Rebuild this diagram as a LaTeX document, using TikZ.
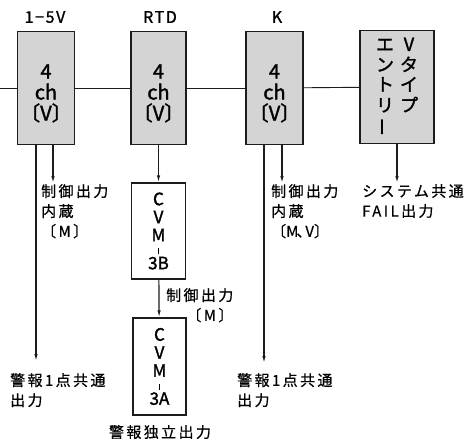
\documentclass[tikz,border=0pt]{standalone}
\usepackage{fontspec}
\setmainfont{Noto Sans CJK JP}
\newfontfamily\lblfont[LetterSpace=16, FakeBold=0.6]{Noto Sans CJK JP}
\newfontfamily\plainlbl[FakeBold=0.6]{Noto Sans CJK JP}
\newfontfamily\boxfont[FakeBold=1.6]{Noto Sans CJK JP}
\newfontfamily\topfont[LetterSpace=10, FakeBold=1.2]{Noto Sans CJK JP}
\usepackage{graphicx}
\usepackage{xcolor}
\definecolor{unitGray}{HTML}{D4D4D4}
\definecolor{inkDark}{HTML}{1C1C1C}
\usetikzlibrary{arrows.meta}

\newcommand{\vbar}{\rule{1.3pt}{6pt}}
\newcommand{\vlong}{\rotatebox[origin=c]{90}{ー}}
\newcommand{\upstrut}{\rule{0pt}{25pt}}

\tikzset{
  unit/.style={draw=inkDark, line width=1.4pt, fill=unitGray, minimum width=57pt,
    minimum height=113pt, inner sep=0pt, align=center, font=\boxfont\fontsize{20}{21}\selectfont},
  cvm/.style={draw=inkDark, line width=1.4pt, fill=white, minimum width=54pt,
    minimum height=96pt, inner sep=0pt, align=center, font=\boxfont\fontsize{17}{18}\selectfont},
  toplbl/.style={font=\topfont\fontsize{16}{16}\selectfont, inner sep=0pt},
  lbl/.style={font=\lblfont\fontsize{15}{20}\selectfont, inner sep=0pt, align=left, anchor=north west},
  wire/.style={inkDark, line width=0.9pt},
  outarrow/.style={inkDark, line width=1.2pt, -{Latex[length=7pt,width=3.5pt]}},
}

\begin{document}
\begin{tikzpicture}[x=1pt, y=-1pt]
  \useasboundingbox (0,0) rectangle (469,440);
  % input units on the bus
  \node[unit] (V1) at (46,88) {\upstrut4\\ch\\〔V〕};
  \node[unit, minimum width=55pt] (RTD) at (158.5,88) {\upstrut4\\ch\\〔V〕};
  \node[unit] (K) at (274.5,88) {\upstrut4\\ch\\〔V〕};
  \node[unit, minimum width=74pt, font=\boxfont\fontsize{18}{19}\selectfont] (VE) at (397,87)
    {\begin{tabular}{@{}c@{\hspace{6pt}}c@{}}エ & V\\ ン & タ\\ ト & イ\\ リ & プ\\ \vlong & \end{tabular}};
  \node[toplbl] (tV1) at (45,17) {1−5V};
  \node[toplbl] (tRTD) at (160,17) {RTD};
  \node[toplbl] (tK) at (277,17) {K};
  % bus
  \coordinate (busL) at (0,88);
  \draw[wire] (busL) -- (V1);
  \draw[wire] (V1) -- (RTD);
  \draw[wire] (RTD) -- (K);
  \draw[wire] (K) -- (VE);
  % cvm boxes
  \node[cvm] (B3) at (158.5,231) {C\\V\\M\\[-5pt]\vbar\\[-3pt]3B};
  \node[cvm, minimum width=53pt, minimum height=97pt] (A3) at (159.5,366.5) {C\\V\\M\\[-5pt]\vbar\\[-3pt]3A};
  \draw[outarrow] (RTD) -- (B3);
  \draw[outarrow] (B3) -- (A3);
  % outputs
  \coordinate (c1) at (53,183);
  \coordinate (a1) at (36,361);
  \coordinate (c3) at (282,183);
  \coordinate (a3) at (264,363);
  \coordinate (f4) at (397,183);
  \draw[outarrow] (V1.south -| c1) -- (c1);
  \draw[outarrow] (V1.south -| a1) -- (a1);
  \draw[outarrow] (K.south -| c3) -- (c3);
  \draw[outarrow] (K.south -| a3) -- (a3);
  \draw[outarrow] (VE.south -| f4) -- (f4);
  % labels
  \node[lbl] (l1) at (41,184) {制御出力\\内蔵\\〔M〕};
  \node[lbl] (l2) at (10,373) {警報1点共通\\出力};
  \node[lbl, align=right] (l3) at (166,288) {制御出力\\〔M〕};
  \node[lbl, anchor=center] (l4) at (160,432) {警報独立出力};
  \node[lbl] (l5) at (271,184) {制御出力\\内蔵\\{\plainlbl〔M\kern-2pt、\kern-6pt V〕}};
  \node[lbl] (l6) at (237,373) {警報1点共通\\出力};
  \node[lbl] (l7) at (362,184) {システム共通\\FAIL出力};
\end{tikzpicture}
\end{document}
